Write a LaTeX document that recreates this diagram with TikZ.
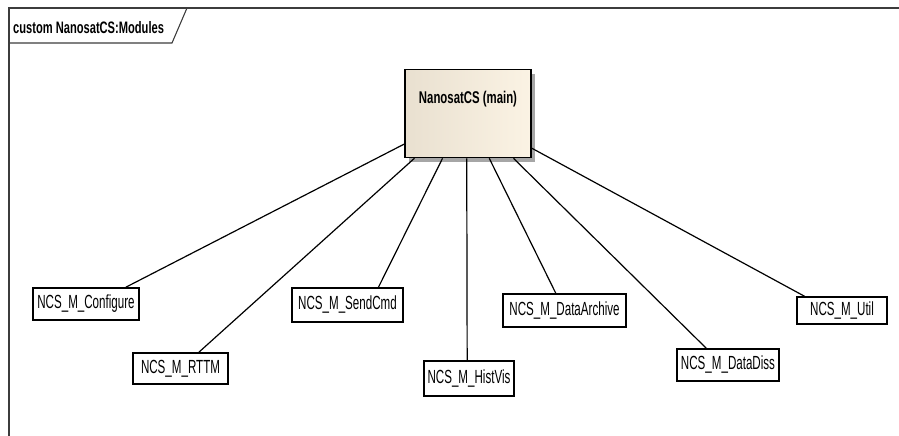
\documentclass[tikz,border=0pt]{standalone}
\usepackage{fontspec}
\setmainfont{Liberation Sans}
\newfontfamily\condfont[FakeStretch=0.61]{Liberation Sans}
\newfontfamily\condbfont[FakeStretch=0.67]{Liberation Sans}
\usetikzlibrary{calc,shadows}
\definecolor{frameclr}{RGB}{60,60,60}
\definecolor{mainleft}{RGB}{233,224,208}
\definecolor{mainright}{RGB}{251,243,228}
\tikzset{
  framestyle/.style={draw=frameclr, line width=1.1pt},
  modbox/.style={draw=black, line width=1.5pt, fill=white, inner sep=0pt,
    font=\condfont\fontsize{19}{22}\selectfont},
  mainbox/.style={draw=black, line width=1.3pt, inner sep=0pt, anchor=north,
    left color=mainleft, right color=mainright,
    drop shadow={shadow xshift=4pt, shadow yshift=-4pt, fill=black!35, opacity=1},
    font=\condbfont\bfseries\fontsize{17}{20}\selectfont},
  link/.style={draw=black, line width=1.2pt},
  titletext/.style={anchor=base west, inner sep=0pt,
    font=\condbfont\bfseries\fontsize{16.6}{19}\selectfont}
}
\begin{document}
\begin{tikzpicture}[x=1pt, y=-1pt]
\useasboundingbox (0,0) rectangle (899,436);
% frame
\coordinate (fbl) at (9,436);
\coordinate (ftl) at (9,8);
\coordinate (ftr) at (899,8);
\coordinate (tabl) at (9,43);
\coordinate (tabr) at (172,43);
\coordinate (tabt) at (187,8);
\draw[framestyle] (fbl) -- (ftl) -- (ftr);
\draw[framestyle] (tabl) -- (tabr) -- (tabt);
\node[titletext] (title) at (13,33.3) {custom NanosatCS:Modules};
% main
\node[mainbox, minimum width=126pt, text height=34pt, text depth=54pt] (main) at (468,69) {NanosatCS (main)};
% modules
\node[modbox, minimum width=106pt, minimum height=32pt] (conf) at (86,304) {NCS\_M\_Configure};
\node[modbox, minimum width=95pt, minimum height=31pt] (rttm) at (180.5,368.5) {NCS\_M\_RTTM};
\node[modbox, minimum width=111pt, minimum height=34pt] (send) at (347.5,305) {NCS\_M\_SendCmd};
\node[modbox, minimum width=90pt, minimum height=35pt] (hist) at (469,378.5) {NCS\_M\_HistVis};
\node[modbox, minimum width=123pt, minimum height=33pt] (arch) at (564.5,310.5) {NCS\_M\_DataArchive};
\node[modbox, minimum width=102pt, minimum height=32pt] (diss) at (728,365) {NCS\_M\_DataDiss};
\node[modbox, minimum width=90pt, minimum height=27pt] (util) at (842,310.5) {NCS\_M\_Util};
% links
\draw[link] ($(main.north west)!0.84!(main.south west)$) -- ($(conf.north west)!0.87!(conf.north east)$);
\draw[link] ($(main.south west)!0.079!(main.south east)$) -- ($(rttm.north west)!0.69!(rttm.north east)$);
\draw[link] ($(main.south west)!0.30!(main.south east)$) -- ($(send.north west)!0.775!(send.north east)$);
\draw[link] ($(main.south west)!0.49!(main.south east)$) -- ($(hist.north west)!0.48!(hist.north east)$);
\draw[link] ($(main.south west)!0.667!(main.south east)$) -- ($(arch.north west)!0.43!(arch.north east)$);
\draw[link] ($(main.south west)!0.857!(main.south east)$) -- ($(diss.north west)!0.29!(diss.north east)$);
\draw[link] ($(main.north east)!0.886!(main.south east)$) -- ($(util.north west)!0.09!(util.north east)$);
\end{tikzpicture}
\end{document}
